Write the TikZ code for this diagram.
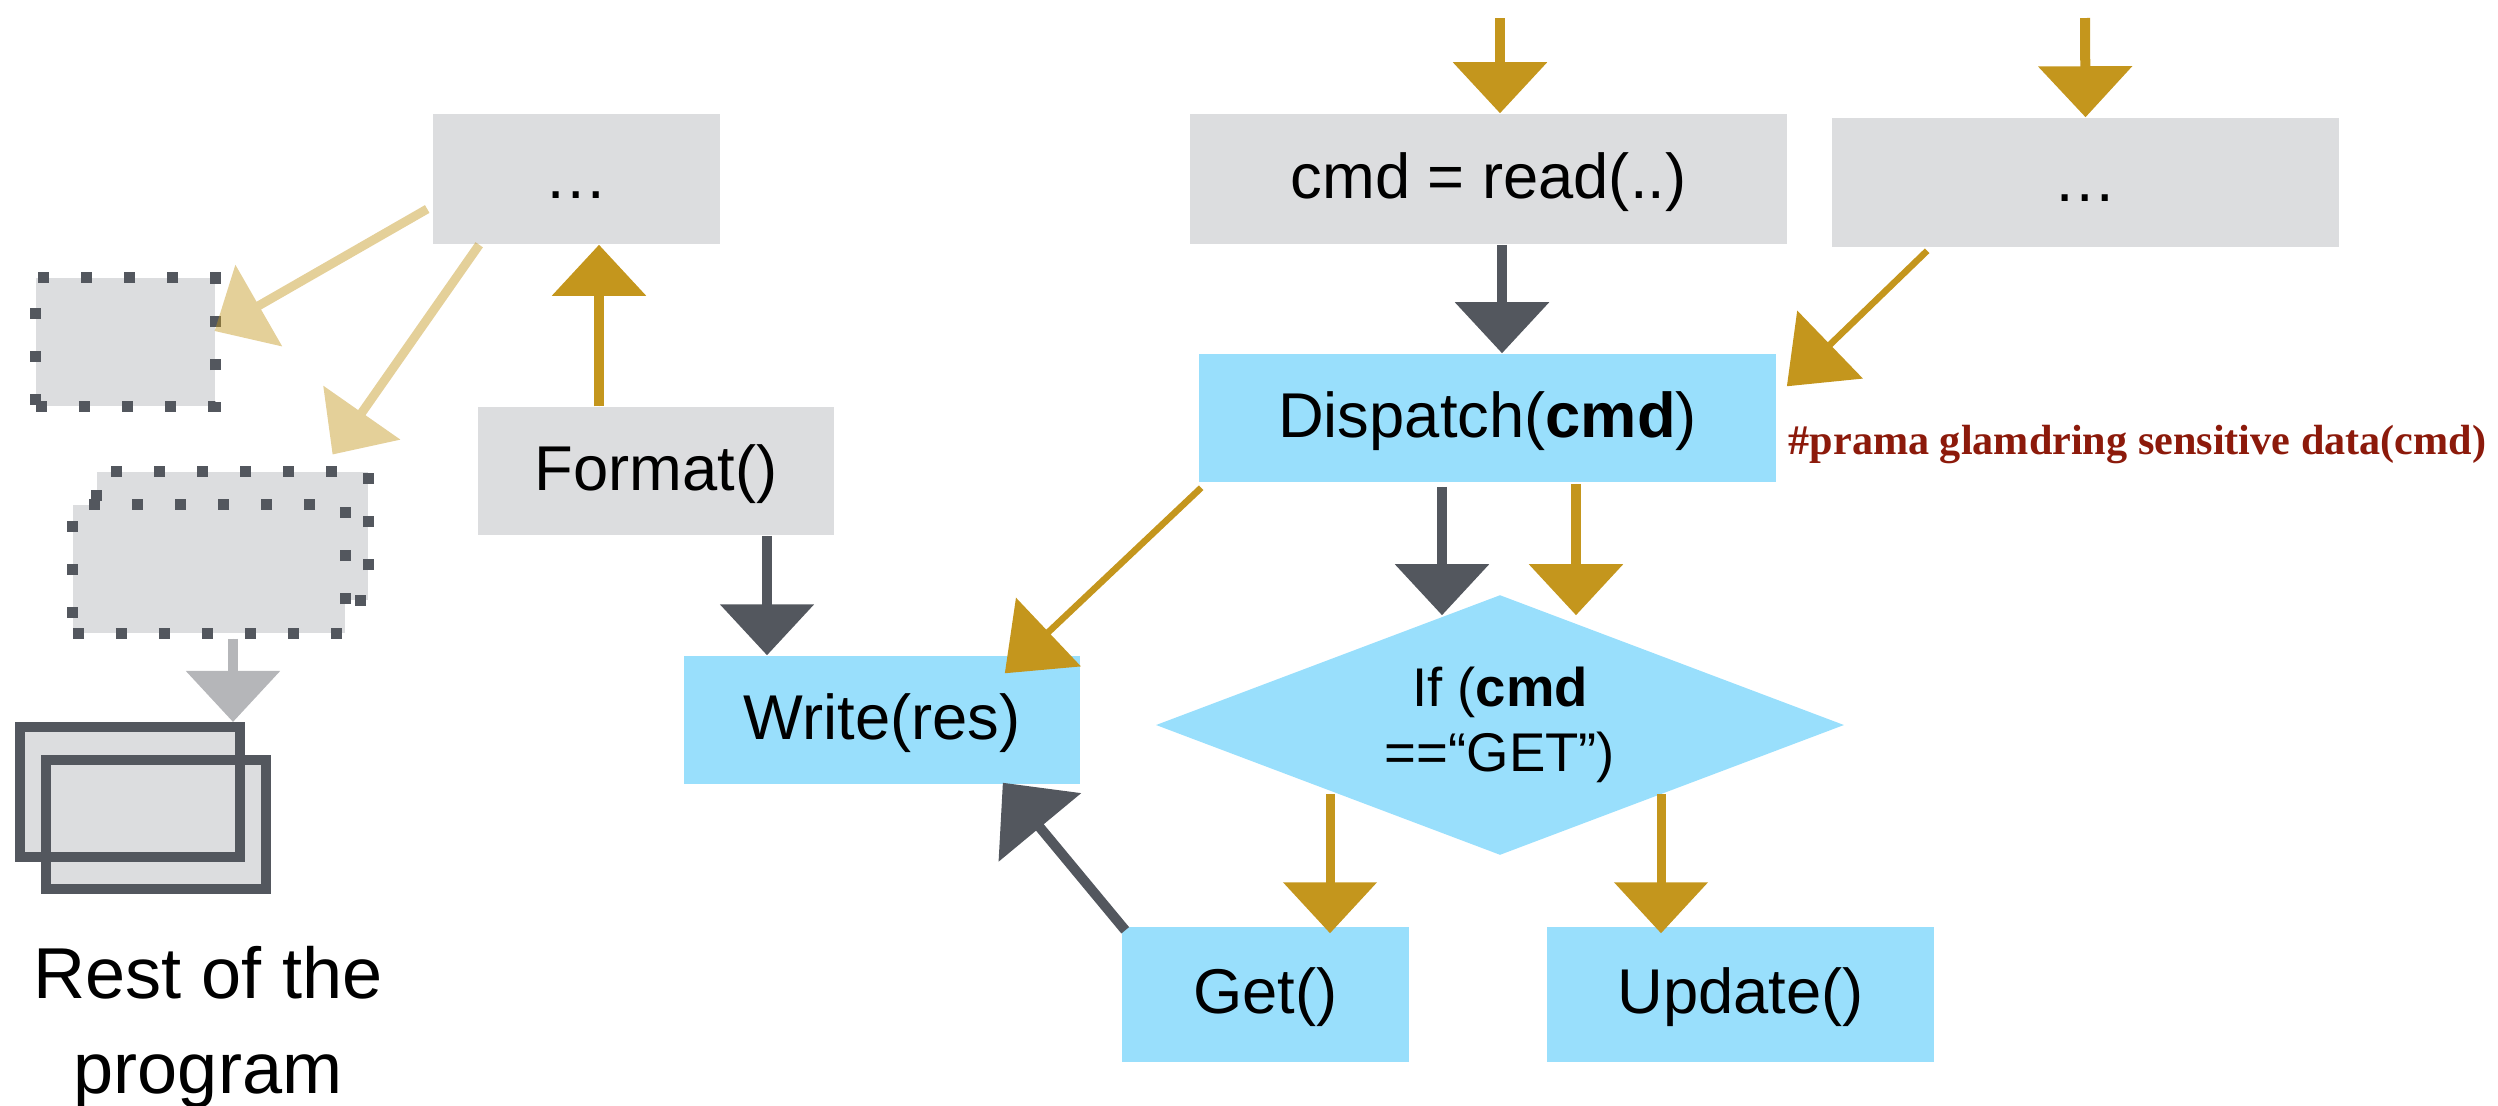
\documentclass[tikz,border=0pt]{standalone}
\usepackage{fontspec}
\setmainfont{Liberation Sans}
\newfontfamily\annotfont{Liberation Serif}
\usetikzlibrary{arrows.meta,shapes.geometric,calc}
\definecolor{boxgray}{HTML}{DCDDDF}
\definecolor{boxblue}{HTML}{99DFFC}
\definecolor{gold}{HTML}{C4961D}
\definecolor{darkg}{HTML}{53575E}
\definecolor{lightg}{HTML}{B5B6B9}
\definecolor{annot}{HTML}{8C1A0B}
\tikzset{
  box/.style={inner sep=0pt, text height=0.46cm, text depth=0.08cm, font=\fontsize{18}{21}\selectfont},
  graybox/.style={box, fill=boxgray},
  bluebox/.style={box, fill=boxblue},
  dotbox/.style={fill=boxgray, draw=darkg, line width=0.11cm, dash pattern=on 0.11cm off 0.32cm, inner sep=0pt},
  restbox/.style={draw=darkg, line width=0.1cm, inner sep=0pt},
  arr/.style={line width=0.1cm, -{Triangle[width=0.92cm,length=0.51cm]}},
  thinarr/.style={line width=0.065cm, -{Triangle[width=0.93cm,length=0.6cm]}},
  fadedarr/.style={arr, draw=gold, fill=gold, line width=0.09cm},
}
\begin{document}
\begin{tikzpicture}[x=0.01cm, y=-0.01cm]
\useasboundingbox (0,0) rectangle (2498,1105);
% nodes
\node[graybox, minimum width=2.87cm, minimum height=1.30cm] (topL) at (576.5,179) {…};
\node[graybox, minimum width=3.56cm, minimum height=1.28cm] (format) at (656,471) {Format()};
\node[bluebox, minimum width=3.96cm, minimum height=1.28cm] (write) at (882,720) {Write(res)};
\node[graybox, minimum width=5.97cm, minimum height=1.30cm] (cmd) at (1488.5,179) {cmd = read(..)};
\node[graybox, minimum width=5.07cm, minimum height=1.29cm] (dotsR) at (2085.5,182.5) {…};
\node[bluebox, minimum width=5.77cm, minimum height=1.28cm] (dispatch) at (1487.5,418) {Dispatch(\textbf{cmd})};
\node[bluebox, minimum width=2.87cm, minimum height=1.35cm] (get) at (1265.5,994.5) {Get()};
\node[bluebox, minimum width=3.87cm, minimum height=1.35cm] (update) at (1740.5,994.5) {Update()};
\node[diamond, fill=boxblue, inner sep=0pt, minimum width=6.88cm, minimum height=2.60cm] (ifd) at (1500,725) {};
\node[align=center, font=\fontsize{15.5}{18.5}\selectfont] (iftext) at (ifd.center) {If (\textbf{cmd}\\==“GET”)};
\node[dotbox, minimum width=1.79cm, minimum height=1.28cm] (d1) at (125.5,342) {};
\node[dotbox, minimum width=2.71cm, minimum height=1.28cm] (d2a) at (232.5,536) {};
\node[dotbox, minimum width=2.72cm, minimum height=1.28cm] (d2b) at (209,569) {};
% stacked rectangles
\node[fill=boxgray, inner sep=0pt, minimum width=2.20cm, minimum height=1.30cm] (rest1f) at (130,792) {};
\node[fill=boxgray, inner sep=0pt, minimum width=2.20cm, minimum height=1.29cm] (rest2f) at (156,824.5) {};
\node[restbox, minimum width=2.20cm, minimum height=1.30cm] (rest1) at (130,792) {};
\node[restbox, minimum width=2.20cm, minimum height=1.29cm] (rest2) at (156,824.5) {};
\node[align=center, font=\fontsize{20.5}{27}\selectfont, anchor=base] (resttext) at (208,1093) {Rest of the\\program};
\node[anchor=base west, text=annot, font=\annotfont\bfseries\fontsize{12}{14}\selectfont, inner sep=0pt] (note) at (1788,454) {\#prama glamdring sensitive data(cmd)};
% free ends
\coordinate (in1) at (1500,18);
\coordinate (in2) at (2085,18);
% connectors
\begin{scope}[transparency group, opacity=0.45]
\draw[fadedarr] ($(topL.west)+(-5,30)$) -- ($(d1.east)+(-6,-11)$);
\end{scope}
\begin{scope}[transparency group, opacity=0.45]
\draw[fadedarr] ($(topL.south west)+(47,0)$) -- ($(d2a.north east)+(-41,-12)$);
\end{scope}
\draw[arr, draw=lightg, fill=lightg] ($(d2b.south)+(24,0)$) -- ($(rest1.north)+(103,0)$);
\draw[arr, draw=gold, fill=gold] ($(format.north)+(-57,0)$) -- ($(topL.south)+(22.5,0)$);
\draw[arr, draw=darkg, fill=darkg] ($(format.south)+(111,0)$) -- ($(write.north)+(-115,0)$);
\draw[line width=0.1cm, draw=darkg, -{Triangle[width=1.05cm,length=0.58cm]}] ($(get.north west)+(4,4)$) -- ($(write.south east)+(-78,-2)$);
\draw[arr, draw=gold, fill=gold] (in1) -- ($(cmd.north)+(11.5,0)$);
\draw[arr, draw=gold, fill=gold] (in2) -- (dotsR.north);
\draw[arr, draw=darkg, fill=darkg] ($(cmd.south)+(13.5,0)$) -- ($(dispatch.north)+(14.5,0)$);
\draw[thinarr, draw=gold, fill=gold] ($(dotsR.south west)+(96,3)$) -- ($(dispatch.north east)+(10,33)$);
\draw[thinarr, draw=gold, fill=gold] ($(dispatch.south west)+(3,5)$) -- ($(write.north east)+(-76,18)$);
\draw[arr, draw=darkg, fill=darkg] ($(dispatch.south)+(-45.5,4)$) -- ($(ifd.north)+(-58,21)$);
\draw[arr, draw=gold, fill=gold] ($(dispatch.south)+(88.5,1)$) -- ($(ifd.north)+(76,21)$);
\draw[arr, draw=gold, fill=gold, line width=0.09cm] ($(ifd.center)+(-170,69)$) -- ($(get.north)+(64.5,7)$);
\draw[arr, draw=gold, fill=gold, line width=0.09cm] ($(ifd.center)+(161,69)$) -- ($(update.north)+(-79.5,7)$);
\end{tikzpicture}
\end{document}
